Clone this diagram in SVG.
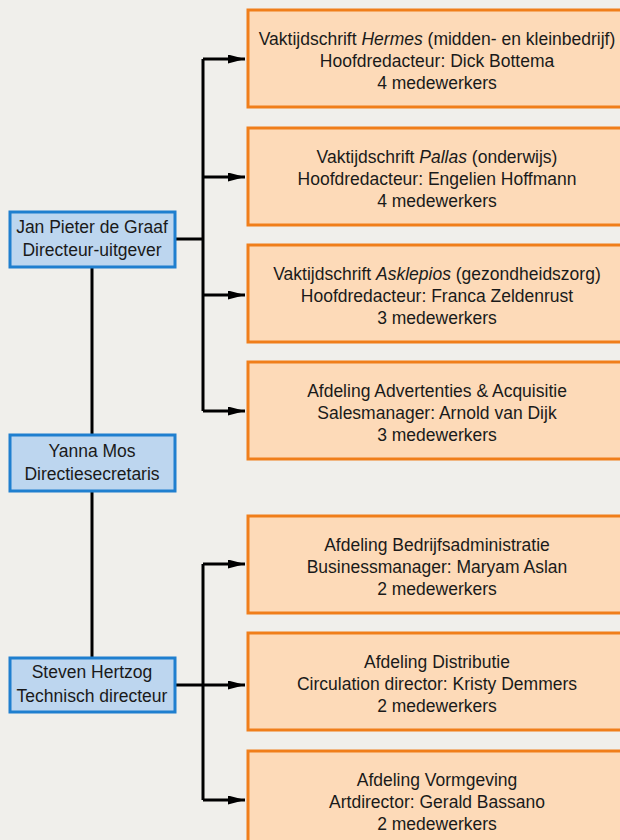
<svg xmlns="http://www.w3.org/2000/svg" width="620" height="840" viewBox="0 0 620 840">
<style>
.bg{fill:#f0efeb}
.blue{fill:#bdd6ef;stroke:#1f7fcf;stroke-width:3}
.org{fill:#fddab8;stroke:#f07e1a;stroke-width:3}
text{font-family:"Liberation Sans",Arial,sans-serif;font-size:17.5px;fill:#1a1a1a;text-anchor:middle}
.ln{fill:none;stroke:#000;stroke-width:3}
</style>
<defs>
<marker id="ah" viewBox="0 0 17 9" refX="17" refY="4.5" markerWidth="17" markerHeight="9" markerUnits="userSpaceOnUse" orient="auto">
<path d="M0,0 L17,4.5 L0,9 z" fill="#000"/>
</marker>
</defs>
<rect class="bg" x="0" y="0" width="620" height="840"/>
<g id="connectors">
<path class="ln" d="M92,267 V435 M92,491 V658"/>
<path class="ln" d="M175,239 H203 M203,59 V411"/>
<path class="ln" d="M203,59 H245" marker-end="url(#ah)"/>
<path class="ln" d="M203,177 H245" marker-end="url(#ah)"/>
<path class="ln" d="M203,295 H245" marker-end="url(#ah)"/>
<path class="ln" d="M203,411 H245" marker-end="url(#ah)"/>
<path class="ln" d="M203,564 V800"/>
<path class="ln" d="M203,564 H245" marker-end="url(#ah)"/>
<path class="ln" d="M175,685 H245" marker-end="url(#ah)"/>
<path class="ln" d="M203,800 H245" marker-end="url(#ah)"/>
</g>
<g id="jan"><rect class="blue" x="10" y="212" width="165" height="55"/>
<text x="92" y="233">Jan Pieter de Graaf</text><text x="92" y="256">Directeur-uitgever</text></g>
<g id="yanna"><rect class="blue" x="10" y="435" width="165" height="56"/>
<text x="92" y="457">Yanna Mos</text><text x="92" y="480">Directiesecretaris</text></g>
<g id="steven"><rect class="blue" x="10" y="658" width="165" height="54"/>
<text x="92" y="678">Steven Hertzog</text><text x="92" y="702">Technisch directeur</text></g>
<g id="hermes"><rect class="org" x="248" y="10" width="380" height="97"/>
<text x="437" y="45">Vaktijdschrift <tspan font-style="italic">Hermes</tspan> (midden- en kleinbedrijf)</text>
<text x="437" y="67">Hoofdredacteur: Dick Bottema</text><text x="437" y="89">4 medewerkers</text></g>
<g id="pallas"><rect class="org" x="248" y="128" width="380" height="97"/>
<text x="437" y="163">Vaktijdschrift <tspan font-style="italic">Pallas</tspan> (onderwijs)</text>
<text x="437" y="185">Hoofdredacteur: Engelien Hoffmann</text><text x="437" y="207">4 medewerkers</text></g>
<g id="asklepios"><rect class="org" x="248" y="245" width="380" height="97"/>
<text x="437" y="280">Vaktijdschrift <tspan font-style="italic">Asklepios</tspan> (gezondheidszorg)</text>
<text x="437" y="302">Hoofdredacteur: Franca Zeldenrust</text><text x="437" y="324">3 medewerkers</text></g>
<g id="advertenties"><rect class="org" x="248" y="362" width="380" height="97"/>
<text x="437" y="397">Afdeling Advertenties &amp; Acquisitie</text>
<text x="437" y="419">Salesmanager: Arnold van Dijk</text><text x="437" y="441">3 medewerkers</text></g>
<g id="administratie"><rect class="org" x="248" y="516" width="380" height="97"/>
<text x="437" y="551">Afdeling Bedrijfsadministratie</text>
<text x="437" y="573">Businessmanager: Maryam Aslan</text><text x="437" y="595">2 medewerkers</text></g>
<g id="distributie"><rect class="org" x="248" y="633" width="380" height="97"/>
<text x="437" y="668">Afdeling Distributie</text>
<text x="437" y="690">Circulation director: Kristy Demmers</text><text x="437" y="712">2 medewerkers</text></g>
<g id="vormgeving"><rect class="org" x="248" y="751" width="380" height="97"/>
<text x="437" y="786">Afdeling Vormgeving</text>
<text x="437" y="808">Artdirector: Gerald Bassano</text><text x="437" y="830">2 medewerkers</text></g>
</svg>
